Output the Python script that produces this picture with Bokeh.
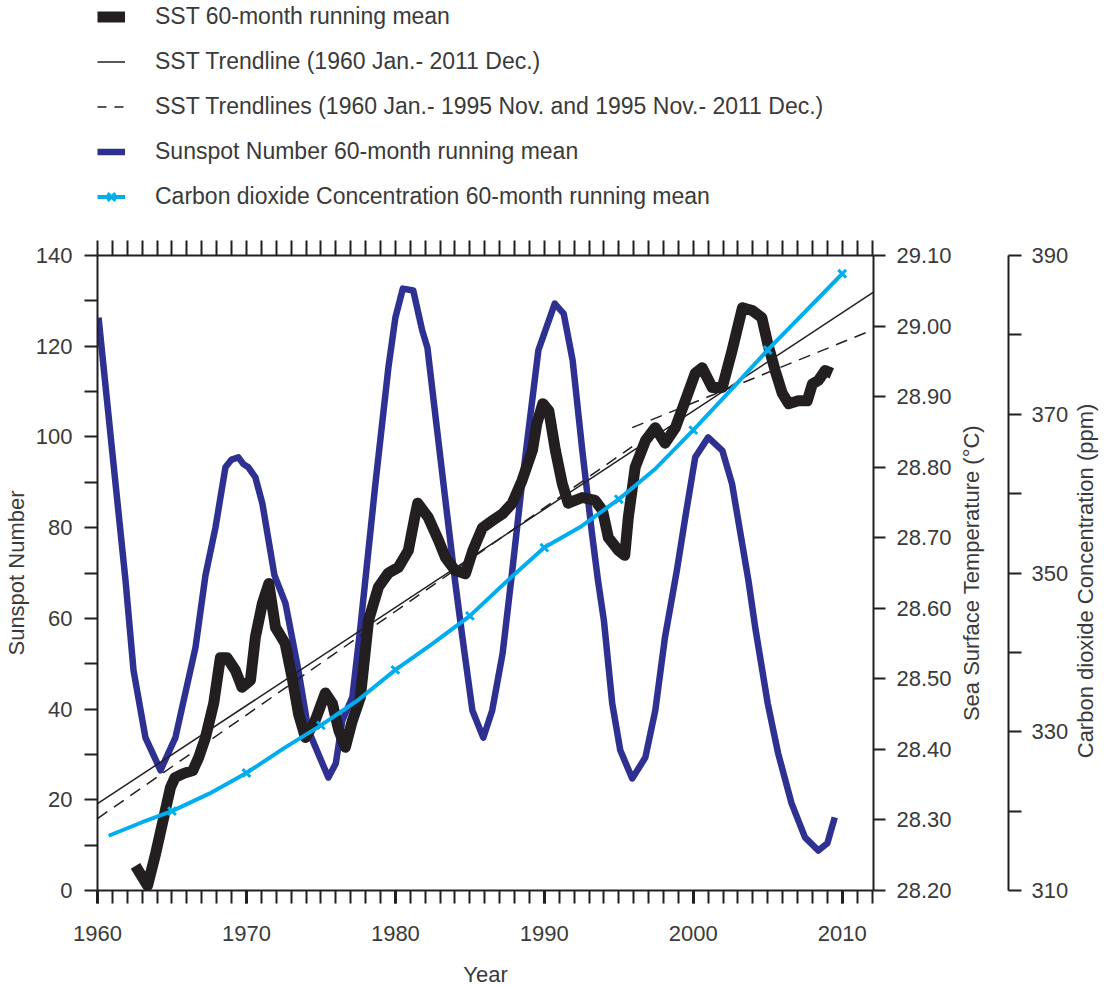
import math
from bokeh.plotting import figure
from bokeh.layouts import row, column
from bokeh.models import (Range1d, LinearAxis, FixedTicker, Legend, LegendItem,
                          PrintfTickFormatter)
from bokeh.core.properties import value
from bokeh.embed import file_html
from bokeh.resources import INLINE

# ---------------- data ----------------
sun_year = [1960.07, 1961.0, 1961.88, 1962.42, 1963.22, 1964.23, 1965.23, 1966.58,
            1967.25, 1967.92, 1968.59, 1969.0, 1969.46, 1969.8, 1970.13, 1970.6,
            1971.07, 1971.88, 1972.62, 1973.49, 1974.16, 1975.1, 1975.5, 1976.0,
            1976.44, 1977.11, 1977.65, 1978.66, 1979.53, 1980.0, 1980.5, 1981.2,
            1981.8, 1982.15, 1982.7, 1983.36, 1984.0, 1984.5, 1985.17, 1985.9,
            1986.5, 1987.2, 1987.85, 1988.5, 1989.6, 1990.7, 1991.3, 1991.9,
            1992.55, 1993.2, 1993.6, 1994.0, 1994.56, 1995.1, 1995.9, 1996.78,
            1997.45, 1998.1, 1998.9, 1999.46, 2000.13, 2001.0, 2001.95, 2002.6,
            2003.7, 2004.16, 2005.0, 2005.7, 2006.6, 2007.5, 2008.4, 2009.0,
            2009.5]
sun_val = [126.3, 96.4, 68.4, 48.5, 33.7, 26.5, 33.7, 53.6,
           69.5, 80.0, 93.3, 95.0, 95.5, 94.0, 93.3, 91.1,
           85.3, 69.5, 63.3, 48.5, 35.3, 28.0, 24.9, 28.0,
           37.5, 42.6, 58.0, 89.7, 115.3, 126.3, 132.7, 132.3,
           123.5, 119.7, 104.3, 86.0, 68.4, 55.8, 39.7, 33.7,
           39.7, 52.3, 70.6, 89.7, 119.1, 129.4, 127.2, 116.9,
           97.0, 78.7, 68.4, 59.5, 41.2, 30.9, 24.7, 29.3,
           39.7, 55.8, 70.6, 82.2, 95.5, 99.9, 97.0, 89.7,
           68.4, 58.0, 41.2, 30.2, 19.2, 11.7, 8.8, 10.4,
           16.1]

sst_year = [1962.55, 1963.36, 1963.9, 1964.4, 1964.9, 1965.2, 1965.8, 1966.4,
            1966.8, 1967.25, 1967.8, 1968.25, 1968.7, 1969.26, 1969.7, 1970.27,
            1970.6, 1971.07, 1971.5, 1971.95, 1972.6, 1973.1, 1973.5, 1973.96,
            1974.6, 1975.3, 1975.77, 1976.2, 1976.64, 1977.1, 1977.65, 1978.2,
            1978.86, 1979.53, 1980.2, 1980.87, 1981.3, 1981.5, 1982.2, 1982.9,
            1983.36, 1984.0, 1984.7, 1985.2, 1985.84, 1986.5, 1987.2, 1987.85,
            1988.5, 1989.2, 1989.5, 1989.9, 1990.3, 1990.74, 1991.2, 1991.6,
            1992.55, 1993.4, 1993.9, 1994.3, 1994.97, 1995.4, 1995.64, 1996.1,
            1996.8, 1997.45, 1998.1, 1998.8, 1999.46, 2000.13, 2000.6, 2001.27,
            2001.95, 2002.6, 2003.3, 2003.96, 2004.6, 2005.0, 2005.5, 2005.97,
            2006.4, 2007.05, 2007.65, 2008.0, 2008.4, 2008.86, 2009.3]
sst_val = [28.235, 28.207, 28.252, 28.299, 28.346, 28.360, 28.366, 28.370,
           28.389, 28.417, 28.465, 28.530, 28.530, 28.512, 28.488, 28.498,
           28.559, 28.607, 28.635, 28.573, 28.550, 28.498, 28.450, 28.417,
           28.440, 28.480, 28.465, 28.427, 28.403, 28.440, 28.474, 28.583,
           28.630, 28.650, 28.658, 28.682, 28.729, 28.749, 28.729, 28.696,
           28.672, 28.654, 28.649, 28.682, 28.714, 28.724, 28.734, 28.749,
           28.781, 28.824, 28.862, 28.890, 28.880, 28.824, 28.777, 28.749,
           28.757, 28.753, 28.739, 28.700, 28.682, 28.675, 28.729, 28.800,
           28.838, 28.856, 28.834, 28.856, 28.894, 28.933, 28.941, 28.913,
           28.913, 28.965, 29.026, 29.022, 29.012, 28.975, 28.937, 28.905,
           28.890, 28.894, 28.894, 28.918, 28.923, 28.937, 28.933]

# SST trendline 1960 Jan - 2011 Dec (end values read at the frame edges)
trend_year = [1960.0, 2012.1]
trend_val = [28.323, 29.048]
# SST trendlines 1960 Jan - 1995 Nov and 1995 Nov - 2011 Dec
trend1_year = [1960.0, 1995.9]
trend1_val = [28.302, 28.829]
trend2_year = [1995.9, 2012.1]
trend2_val = [28.856, 28.995]

co2_year = [1960.75, 1963.0, 1965.0, 1967.5, 1970.0, 1972.5, 1975.0, 1977.5,
            1980.0, 1982.5, 1985.0, 1987.5, 1990.0, 1992.5, 1995.0, 1997.5,
            2000.0, 2002.5, 2005.0, 2007.5, 2010.0]
co2_val = [316.9, 318.6, 320.0, 322.2, 324.8, 327.9, 330.8, 334.0,
           337.8, 341.1, 344.6, 349.0, 353.2, 355.9, 359.3, 363.2,
           368.0, 373.0, 378.1, 382.9, 387.7]
co2_mark_year = [1965, 1970, 1975, 1980, 1985, 1990, 1995, 2000, 2005, 2010]
co2_mark_val = [320.0, 324.8, 330.8, 337.8, 344.6, 353.2, 359.3, 368.0, 378.1, 387.7]

year_major = [1960, 1970, 1980, 1990, 2000, 2010]
year_minor = list(range(1960, 2013))
sun_major = [0, 20, 40, 60, 80, 100, 120, 140]
sun_minor = [10, 30, 50, 70, 90, 110, 130]
sst_ticks = [28.2, 28.3, 28.4, 28.5, 28.6, 28.7, 28.8, 28.9, 29.0, 29.1]
co2_major = [310, 330, 350, 370, 390]
co2_all = [310, 320, 330, 340, 350, 360, 370, 380, 390]
co2_labels = ["310", "330", "350", "370", "390"]

labels = ["SST 60-month running mean",
          "SST Trendline (1960 Jan.- 2011 Dec.)",
          "SST Trendlines (1960 Jan.- 1995 Nov. and 1995 Nov.- 2011 Dec.)",
          "Sunspot Number 60-month running mean",
          "Carbon dioxide Concentration 60-month running mean"]
sst_title = "Sea Surface Temperature (°C)"
co2_title = "Carbon dioxide Concentration (ppm)"

# legend sample renderers need a non-empty source; these points lie outside the
# legend block's visible range, so only the legend swatches are drawn
stub_x = [-2.0, -1.0]
stub_y = [-2.0, -1.0]

# ---------------- styling ----------------
BLACK = "#231f20"
BLUE = "#2e3192"
CYAN = "#00aeef"
TXT = "#3a3a3a"
FONT = "Liberation Sans"
FS = "22px"

W1 = 955          # width of the main block (ends after the SST axis)
W2 = 1104 - W1    # the CO2 axis block
H = 989
HL = 240          # legend block height

# ---------------- legend block ----------------
pl = figure(width=W1, height=HL, output_backend="svg", toolbar_location=None,
            x_range=Range1d(0, 1), y_range=Range1d(0, 1),
            x_axis_location=None, y_axis_location=None,
            min_border_left=0, min_border_right=0, min_border_top=0, min_border_bottom=0)
pl.grid.visible = False
pl.outline_line_color = None

# ---------------- main plot ----------------
p = figure(width=W1, height=H - HL, output_backend="svg", toolbar_location=None,
           x_range=Range1d(1960, 2012.1), y_range=Range1d(0, 140),
           x_axis_location=None, y_axis_location=None,
           min_border_left=97, min_border_right=W1 - 873,
           min_border_top=255 - HL, min_border_bottom=99)
p.extra_y_ranges = {"sst": Range1d(28.2, 29.1), "co2": Range1d(310, 390)}
p.grid.visible = False
p.outline_line_color = None


def style(ax, out=13):
    ax.axis_line_color = BLACK
    ax.axis_line_width = 2
    ax.major_tick_line_color = BLACK
    ax.major_tick_line_width = 2
    ax.minor_tick_line_color = BLACK
    ax.minor_tick_line_width = 2
    ax.major_tick_in = 0
    ax.minor_tick_in = 0
    ax.major_tick_out = out
    ax.minor_tick_out = out
    ax.major_label_text_font = FONT
    ax.major_label_text_font_size = FS
    ax.major_label_text_color = TXT
    ax.axis_label_text_font = FONT
    ax.axis_label_text_font_size = FS
    ax.axis_label_text_font_style = "normal"
    ax.axis_label_text_color = TXT


# left: sunspot number
ax_left = LinearAxis(ticker=FixedTicker(ticks=sun_major, minor_ticks=sun_minor),
                     axis_label="Sunspot Number")
style(ax_left)
ax_left.major_label_standoff = 12
ax_left.axis_label_standoff = 4
p.add_layout(ax_left, "left")

# bottom: year
ax_bot = LinearAxis(ticker=FixedTicker(ticks=year_major, minor_ticks=year_minor),
                    axis_label="Year")
style(ax_bot)
ax_bot.major_tick_line_width = 3
ax_bot.major_label_standoff = 22
ax_bot.axis_label_standoff = 18
p.add_layout(ax_bot, "below")

# top: unlabeled year ticks (all drawn as minor ticks, so there are no labels)
ax_top = LinearAxis(ticker=FixedTicker(ticks=[], minor_ticks=year_minor))
style(ax_top, out=15)
p.add_layout(ax_top, "above")

# right: SST (its title sits in the next block)
ax_sst = LinearAxis(y_range_name="sst", ticker=FixedTicker(ticks=sst_ticks, minor_ticks=[]),
                    formatter=PrintfTickFormatter(format="%.2f"))
style(ax_sst, out=12)
ax_sst.major_label_standoff = 11
p.add_layout(ax_sst, "right")

# ---------------- glyphs ----------------
r_sun = p.line(sun_year, sun_val, line_width=6.5, color=BLUE, line_join="round")
r_sst = p.line(sst_year, sst_val, y_range_name="sst", line_width=11, color=BLACK,
               line_join="round")
r_tr = p.line(trend_year, trend_val, y_range_name="sst", line_width=1.5, color=BLACK)
r_tr1 = p.line(trend1_year, trend1_val, y_range_name="sst", line_width=1.5, color=BLACK,
               line_dash="12 8")
r_tr2 = p.line(trend2_year, trend2_val, y_range_name="sst", line_width=1.5, color=BLACK,
               line_dash="12 8")
r_co2 = p.line(co2_year, co2_val, y_range_name="co2", line_width=4, color=CYAN,
               line_join="round")
r_co2m = p.scatter(co2_mark_year, co2_mark_val, y_range_name="co2", marker="x", size=11,
                   line_width=3, color=CYAN)

# legend samples (same styles, drawn in the legend block)
l_sst = pl.line(stub_x, stub_y, line_width=11, color=BLACK)
l_tr = pl.line(stub_x, stub_y, line_width=1.5, color=BLACK)
l_tr2 = pl.line(stub_x, stub_y, line_width=1.5, color=BLACK, line_dash="9 8")
l_sun = pl.line(stub_x, stub_y, line_width=6.5, color=BLUE)
l_co2 = pl.line(stub_x, stub_y, line_width=4, color=CYAN)
l_co2m = pl.scatter(stub_x, stub_y, marker="x", size=11, line_width=3, color=CYAN)

legend = Legend(items=[
    LegendItem(label=labels[0], renderers=[l_sst]),
    LegendItem(label=labels[1], renderers=[l_tr]),
    LegendItem(label=labels[2], renderers=[l_tr2]),
    LegendItem(label=labels[3], renderers=[l_sun]),
    LegendItem(label=labels[4], renderers=[l_co2, l_co2m]),
], location=(0, 30))
legend.border_line_color = None
legend.background_fill_alpha = 0
legend.glyph_width = 28
legend.glyph_height = 27
legend.label_height = 27
legend.spacing = 18
legend.padding = 5
legend.margin = 0
legend.label_standoff = 30
legend.label_text_font = FONT
legend.label_text_font_size = "23px"
legend.label_text_color = TXT
pl.add_layout(legend)

# ---------------- CO2 axis block ----------------
PX = 635 / 80.0            # pixels per ppm on the CO2 scale
pad = 20 / PX              # frame extends 20 px above and below the axis
p2 = figure(width=W2, height=H, output_backend="svg", toolbar_location=None,
            x_range=Range1d(0, W2 - 53), y_range=Range1d(310 - pad, 390 + pad),
            x_axis_location=None, y_axis_location=None,
            min_border_left=53, min_border_right=0,
            min_border_top=235, min_border_bottom=79)
p2.grid.visible = False
p2.outline_line_color = None

ax_co2 = LinearAxis(ticker=FixedTicker(ticks=[], minor_ticks=co2_all), bounds=(310, 390),
                    axis_label=sst_title)
style(ax_co2, out=0)
ax_co2.minor_tick_in = 13
ax_co2.minor_tick_out = 0
ax_co2.axis_label_standoff = 25
p2.add_layout(ax_co2, "left")

p2.text(x=[23] * len(co2_major), y=co2_major, text=co2_labels,
        text_font=value(FONT), text_font_size=FS, text_color=TXT,
        text_align="left", text_baseline="middle")
p2.text(x=[77], y=[349], text=[co2_title], angle=math.pi / 2,
        text_font=value(FONT), text_font_size=FS, text_color=TXT,
        text_align="center", text_baseline="middle")

layout = row(column(pl, p, spacing=0), p2, spacing=0)
open("out.html", "w").write(file_html(layout, INLINE))
